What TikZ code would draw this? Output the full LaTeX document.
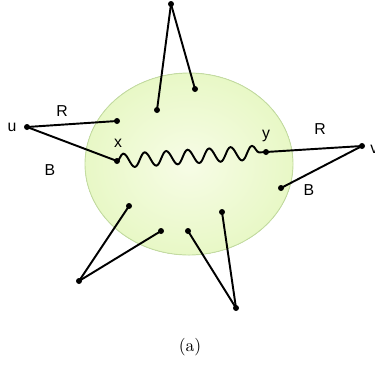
\documentclass[tikz,border=0pt]{standalone}
\usepackage{fontspec}
\setsansfont{Liberation Sans}
\usetikzlibrary{decorations.pathmorphing}
\definecolor{gfill}{HTML}{F7FCE6}
\definecolor{gedge}{HTML}{E8F8C6}
\definecolor{gline}{HTML}{C4DDA0}

\begin{document}
\begin{tikzpicture}[
  x=0.02cm, y=-0.02cm,
  dot/.style={circle, fill=black, inner sep=0pt, minimum size=0.12cm},
  edge/.style={line width=1.1pt, black},
  lbl/.style={font=\sffamily\fontsize{9}{10}\selectfont, inner sep=0pt},
  wave/.style={line width=1.1pt, decorate,
               decoration={snake, segment length=0.43cm, amplitude=0.14cm}},
]
\useasboundingbox (0,0) rectangle (375,366);

% ---------------- the cloud ----------------
\fill[inner color=gfill, outer color=gedge] (189,164) ellipse [x radius=104, y radius=91];
\draw[gline, line width=0.5pt] (189,164) ellipse [x radius=104, y radius=91];

% ---------------- the points ----------------
\node[dot] (top) at (171,4) {};
\node[dot] (t1)  at (157,110) {};
\node[dot] (t2)  at (195,89) {};
\node[dot] (u)   at (27,127) {};
\node[dot] (ur)  at (117,121) {};
\node[dot] (x)   at (117,161) {};
\node[dot] (y)   at (266,152) {};
\node[dot] (v)   at (362,146) {};
\node[dot] (vb)  at (281,188) {};
\node[dot] (bl)  at (79,281) {};
\node[dot] (l1)  at (129,206) {};
\node[dot] (l2)  at (161,231) {};
\node[dot] (br)  at (236,308) {};
\node[dot] (r1)  at (188,231) {};
\node[dot] (r2)  at (222,212) {};

% ---------------- the edges ----------------
\draw[edge] (top.center) -- (t1.center);
\draw[edge] (top.center) -- (t2.center);
\draw[edge] (u.center) -- (ur.center);
\draw[edge] (u.center) -- (x.center);
\draw[edge] (v.center) -- (y.center);
\draw[edge] (v.center) -- (vb.center);
\draw[edge] (bl.center) -- (l1.center);
\draw[edge] (bl.center) -- (l2.center);
\draw[edge] (br.center) -- (r1.center);
\draw[edge] (br.center) -- (r2.center);
\draw[wave] (x.center) -- (y.center);

% ---------------- the labels ----------------
\node[lbl] (lu)  at (12,127) {u};
\node[lbl] (lR1) at (62,111) {R};
\node[lbl] (lB1) at (50,170) {B};
\node[lbl] (lx)  at (118,143) {x};
\node[lbl] (ly)  at (266,136) {y};
\node[lbl] (lR2) at (320,129) {R};
\node[lbl] (lB2) at (309,190) {B};
\node[lbl, anchor=west] (lv) at (370,149) {v};

\node (cap) at (190,347) {(a)};
\end{tikzpicture}
\end{document}
